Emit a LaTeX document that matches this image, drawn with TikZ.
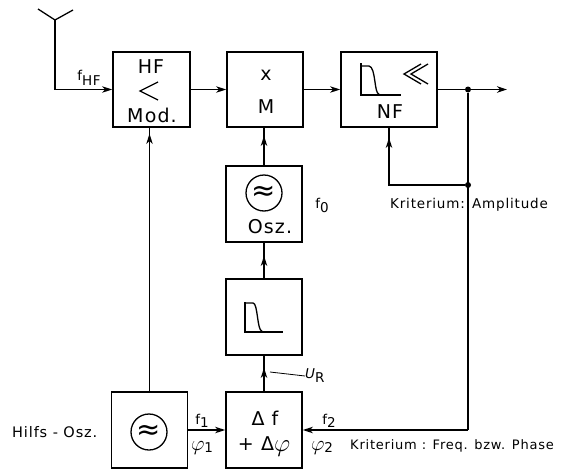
\documentclass[tikz,border=0pt]{standalone}
\usepackage{graphicx}
\usepackage{fontspec}
\setmainfont{DejaVu Sans}[LetterSpace=6]
\newfontfamily\plainsym{DejaVu Sans}
\usetikzlibrary{arrows.meta}
\newcommand{\bigphi}{\raisebox{-1.5pt}{\scalebox{1.45}{$\varphi$}}}
\begin{document}
\begin{tikzpicture}[x=1pt,y=-1pt,
  blk/.style={draw, line width=1.8pt, minimum width=76pt, minimum height=76pt, inner sep=0pt},
  wire/.style={line width=1.3pt},
  arr/.style={wire, -{Stealth[length=10pt,width=6.5pt,inset=3pt]}},
  big/.style={font=\fontsize{19}{19}\selectfont, inner sep=0pt},
  small/.style={font=\fontsize{13.5}{13.5}\selectfont, inner sep=0pt},
  sym/.style={font=\plainsym\fontsize{29}{29}\selectfont, inner sep=0pt},
  dot/.style={circle, fill, inner sep=0pt, minimum size=6pt}]
\useasboundingbox (0,0) rectangle (567,471);

% blocks
\node[blk, minimum width=77pt, minimum height=75pt] (hf) at (151.5,89.5) {};
\node[blk, minimum width=76pt, minimum height=75pt] (mix) at (265,89.5) {};
\node[blk, minimum width=96pt, minimum height=75pt] (nf) at (389,89.5) {};
\node[blk] (osz) at (264,204) {};
\node[blk] (flt) at (264,317) {};
\node[blk] (delta) at (264,430) {};
\node[blk] (hilfs) at (149.5,430) {};

% HF block content
\node[big] (hftxt) at (151,67) {HF};
\draw[wire] (158,82) -- (140,91) -- (158,100);
\node[big] (modtxt) at (152,115) {Mod.};

% mixer content
\node[big] (xtxt) at (266,75) {x};
\node[big] (mtxt) at (266,107) {M};

% NF block content
\draw[wire] (361,63) -- (361,95) -- (401,95);
\draw[wire] (361,66) -- (369,66) .. controls (376,67) and (374,94) .. (379,94);
\draw[wire] (421,64) -- (404,74) -- (421,84);
\draw[wire] (428,64) -- (411,74) -- (428,84);
\node[big] (nftxt) at (390,112) {NF};

% oscillator content
\draw[wire] (264,193) circle (18pt);
\node[sym] (oszsym) at (264,193) {≈};
\node[big] (osztxt) at (270,227) {Osz.};

% filter content
\draw[wire] (245,302) -- (245,332) -- (283,332);
\draw[wire] (245,303) -- (253,303) .. controls (258,303) and (257,331) .. (262,331);

% delta content
\node[big] (dftxt) at (265,418) {Δ f};
\node[big, anchor=base] (dptxt) at (264,450) {+ Δ\bigphi};

% auxiliary oscillator content
\draw[wire] (149,432) circle (18pt);
\node[sym] (hsym) at (149,432) {≈};

% antenna and input
\coordinate (ant) at (55,20);
\draw[wire] (38,9) -- (ant) -- (73,10);
\draw[arr] (ant) |- (hf.west);
\node[small] (fhf) at (89,78) {f\raisebox{-5pt}{HF}};

% main chain
\draw[arr] (hf.east) -- (mix.west);
\draw[arr] (mix.east) -- (nf.west);
\coordinate (out) at (507,89.5);
\draw[arr] (nf.east) -- (out);
\node[dot] (dot1) at (468,89.5) {};
\node[dot] (dot2) at (468,185) {};
\coordinate (lp) at (389,185);
\draw[wire] (dot2) -- (lp) -- (nf.south);
\draw[arr] (lp) -- ([yshift=-10pt]nf.south);
\coordinate (rb) at (468,430);
\draw[wire] (dot1) -- (rb);
\draw[arr] (rb) -- (delta.east);

% vertical chain
\coordinate (hfin) at (hilfs.north |- hf.south);
\draw[wire] (hilfs.north) -- (hfin);
\draw[arr] (hilfs.north) -- ([yshift=-6pt]hfin);
\draw[arr] (hilfs.east) -- (delta.west);
\draw[wire] (delta.north) -- (flt.south);
\draw[arr] (delta.north) -- ([yshift=-12pt]flt.south);
\draw[wire] (flt.north) -- (osz.south);
\draw[arr] (flt.north) -- ([yshift=-13pt]osz.south);
\coordinate (mxin) at (osz.north |- mix.south);
\draw[wire] (osz.north) -- (mxin);
\draw[arr] (osz.north) -- ([yshift=-8pt]mxin);

% labels
\node[small] (f0) at (322,205) {f\raisebox{-4pt}{0}};
\node[small] (f1) at (202,421) {f\raisebox{-3pt}{1}};
\node[small, anchor=base] (p1) at (202,449) {\bigphi\raisebox{-3pt}{1}};
\node[small] (f2) at (329,421) {f\raisebox{-3pt}{2}};
\node[small, anchor=base] (p2) at (322,449) {\bigphi\raisebox{-3pt}{2}};
\node[small, anchor=west] (ur) at (305,376) {\itshape U\raisebox{-4pt}{\upshape R}};
\draw[line width=0.8pt] (ur.west) -- (270,372);
\node[small, anchor=base east] (krit1) at (465,208) {Kriterium:};
\node[small, anchor=base west] (amp) at (472,208) {Amplitude};
\node[small, anchor=base west, font=\fontsize{13}{13}\selectfont] (krit2) at (350,449) {Kriterium : Freq. bzw. Phase};
\node[small, anchor=base west, font=\fontsize{14.5}{14.5}\selectfont] (hl) at (12,437) {Hilfs - Osz.};
\end{tikzpicture}
\end{document}
